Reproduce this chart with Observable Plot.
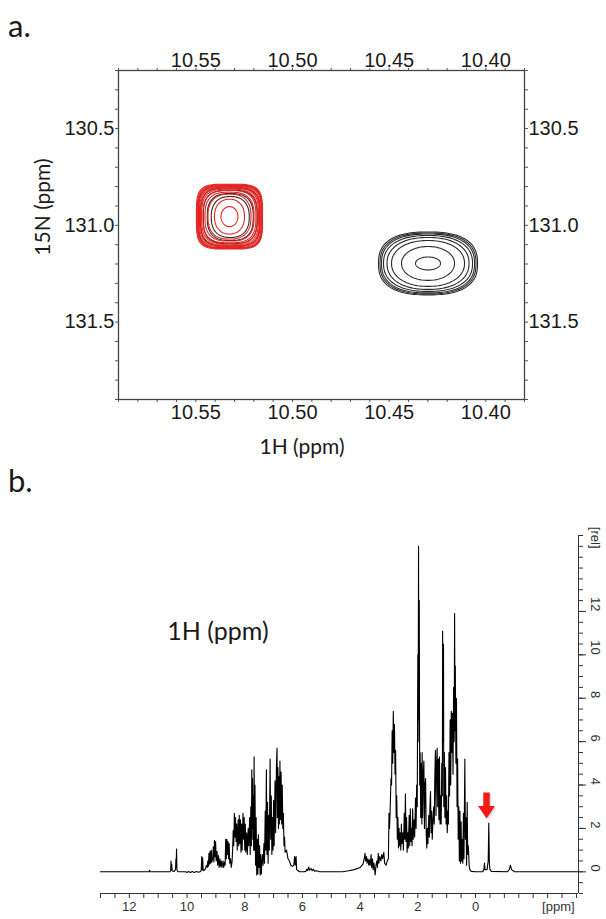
<!DOCTYPE html>
<html><head><meta charset="utf-8">
<script src="https://cdn.jsdelivr.net/npm/d3@7"></script>
<script src="https://cdn.jsdelivr.net/npm/@observablehq/plot@0.6"></script>
<style>
body{margin:0;background:#fff;}
#wrap{position:relative;width:606px;height:919px;overflow:hidden;background:#fff;}
#pa{position:absolute;left:0;top:0;}
#pb{position:absolute;left:0;top:460px;}
#ov{position:absolute;left:0;top:0;pointer-events:none;}
#ov text{font-family:Lato,"Open Sans",sans-serif;fill:#1a1a1a;}
</style></head>
<body><div id="wrap">
<div id="pa"></div><div id="pb"></div>
<svg id="ov" width="606" height="919">
  <text x="8" y="37" font-size="31">a.</text>
  <text x="8" y="492" font-size="31">b.</text>
  <text x="302" y="454" font-size="21" text-anchor="middle">1H (ppm)</text>
  <text transform="translate(50,207) rotate(-90)" font-size="21" text-anchor="middle">15N (ppm)</text>
  <text x="218" y="640" font-size="25" text-anchor="middle">1H (ppm)</text>
</svg>
</div>
<script>
// ---------- Panel a: 2D 1H-15N spectrum ----------
const hDomain = [10.59, 10.38];          // 1H ppm, left -> right
const nDomain = [130.2, 131.9];          // 15N ppm, top -> bottom
const hLabels = [10.55, 10.50, 10.45, 10.40];
const nLabels = [130.5, 131.0, 131.5];

// red peak contour rings (half-widths in ppm) and superellipse exponents
const redCenter = [10.5326, 130.955];
const redHalfH  = [0.01707, 0.01671, 0.01635, 0.01593, 0.01552, 0.01500, 0.01438, 0.01366, 0.01267, 0.01112, 0.00776, 0.00440];
const redHalfN  = [0.1675, 0.1639, 0.1598, 0.1557, 0.1515, 0.1469, 0.1418, 0.1351, 0.1263, 0.1160, 0.0902, 0.0515];
const redExp    = [4.2, 4.1, 4.0, 3.8, 3.6, 3.4, 3.2, 3.0, 2.8, 2.5, 2.2, 2.0];

// black contour rings under the red peak
const blackACenter = [10.5322, 130.957];
const blackAHalfH  = [0.01645, 0.01526, 0.01392, 0.01190, 0.00983];
const blackAHalfN  = [0.1613, 0.1495, 0.1381, 0.1211, 0.1057];
const blackAExp    = [4.0, 3.6, 3.1, 2.7, 2.4];

// black peak
const blackBCenter = [10.4299, 131.197];
const blackBHalfH  = [0.00647, 0.01371, 0.01888, 0.02121, 0.02302, 0.02406, 0.02483, 0.02561];
const blackBHalfN  = [0.0335, 0.0876, 0.1186, 0.1340, 0.1443, 0.1520, 0.1572, 0.1624];
const blackBExp    = [2.0, 2.05, 2.15, 2.25, 2.35, 2.45, 2.5, 2.55];

function rings(center, hs, ns, ps, tag) {
  const out = [];
  hs.forEach((a, i) => {
    const b = ns[i], p = ps[i];
    for (let k = 0; k <= 120; k++) {
      const t = k / 120 * 2 * Math.PI, c = Math.cos(t), s = Math.sin(t);
      out.push({ring: tag + i,
        x: center[0] + a * Math.sign(c) * Math.pow(Math.abs(c), 2 / p),
        y: center[1] + b * Math.sign(s) * Math.pow(Math.abs(s), 2 / p)});
    }
  });
  return out;
}
const redRings = rings(redCenter, redHalfH, redHalfN, redExp, "r");
const blackRings = rings(blackACenter, blackAHalfH, blackAHalfN, blackAExp, "a")
  .concat(rings(blackBCenter, blackBHalfH, blackBHalfN, blackBExp, "b"));

const hTicks = d3.range(1038, 1060).map(v => v / 100);
const nTicks = d3.range(1302, 1320).map(v => v / 10);
const near = (arr, d) => arr.some(v => Math.abs(v - d) < 1e-6);
const fmtH = d => near(hLabels, d) ? d.toFixed(2) : "";
const fmtN = d => near(nLabels, d) ? d.toFixed(1) : "";

const pa = Plot.plot({
  width: 606, height: 460,
  marginLeft: 118, marginRight: 82, marginTop: 70, marginBottom: 61,
  style: {fontFamily: "'Liberation Sans', Arial, sans-serif", fontSize: "20px", color: "#1a1a1a", background: "#fff"},
  x: {domain: hDomain},
  y: {domain: nDomain, reverse: true},
  marks: [
    Plot.axisX({anchor: "top", ticks: hTicks, tickSize: 3, tickPadding: 1, tickFormat: fmtH, stroke: "#555", label: null}),
    Plot.axisX({anchor: "bottom", ticks: hTicks, tickSize: 3, tickPadding: 2, tickFormat: fmtH, stroke: "#555", label: null}),
    Plot.axisY({anchor: "left", ticks: nTicks, tickSize: 3, tickPadding: 1, tickFormat: fmtN, stroke: "#555", label: null}),
    Plot.axisY({anchor: "right", ticks: nTicks, tickSize: 3, tickPadding: 1, tickFormat: fmtN, stroke: "#555", label: null}),
    Plot.line(blackRings, {x: "x", y: "y", z: "ring", stroke: "#2b2b2b", strokeWidth: 1.1}),
    Plot.line(redRings, {x: "x", y: "y", z: "ring", stroke: "#e8231f", strokeWidth: 1.1}),
    Plot.frame({stroke: "#444", strokeWidth: 1.3})
  ]
});
document.getElementById("pa").appendChild(pa);

// ---------- Panel b: 1D 1H spectrum ----------
const ppmDomain = [13.0, -3.57];
const relDomain = [-1, 15.5];
const ppmLabels = [12, 10, 8, 6, 4, 2, 0];
const relLabels = [0, 2, 4, 6, 8, 10, 12];
const spectrum = [
[13.0,0],[11.32,0],[11.30,0.07],[11.28,0],
[10.60,0],[10.57,0.05],[10.555,0.5],[10.545,0.08],[10.53,0.35],[10.515,0.04],[10.45,0.02],[10.40,0.1],[10.385,0.6],[10.375,0.2],[10.365,1.05],[10.35,0.08],[10.32,0],
[10.05,0],[10.0,-0.03],[9.95,0.01],[9.88,-0.03],[9.82,0.01],[9.75,-0.03],[9.68,0.01],[9.6,-0.02],[9.55,0],
[9.51,0.05],[9.49,0.7],[9.475,0.1],[9.46,0.65],[9.44,0.05],[9.40,0.08],
[9.36,0.15],[9.33,0.3],[9.30,0.2],[9.28,0.5],[9.26,0.25],[9.24,0.85],[9.22,0.35],[9.20,0.95],[9.18,0.4],[9.16,1.0],[9.14,0.45],[9.11,0.6],[9.09,1.15],[9.07,0.45],[9.05,1.45],[9.03,0.7],[9.01,1.4],[8.99,0.5],[8.96,0.95],[8.94,0.3],[8.91,0.75],[8.89,0.2],[8.86,0.6],[8.84,0.25],[8.81,0.5],[8.79,0.2],[8.75,0.5],[8.73,0.2],[8.70,0.45],[8.68,0.3],[8.66,1.5],[8.64,0.6],[8.62,1.5],[8.60,0.8],[8.58,1.4],[8.56,0.6],[8.54,1.3],[8.52,0.4],[8.49,0.6],[8.47,0.2],[8.44,0.45],[8.42,1.0],
[8.40,1.9],[8.38,1.2],[8.36,2.7],[8.34,1.6],[8.32,2.5],[8.30,1.4],[8.28,2.2],[8.26,1.0],[8.23,2.4],[8.21,1.2],[8.19,2.6],[8.17,1.3],[8.15,2.4],[8.13,0.9],[8.11,2.2],[8.09,1.0],[8.06,2.7],[8.04,1.5],[8.02,2.5],[8.00,1.0],[7.98,2.2],[7.96,0.9],[7.93,1.8],[7.91,0.8],[7.88,2.0],[7.86,1.2],[7.83,2.5],[7.81,0.8],[7.79,3.0],[7.77,1.2],[7.755,4.7],[7.745,2.0],[7.73,4.3],[7.72,1.5],[7.705,3.5],[7.69,1.0],[7.675,5.3],[7.66,1.0],[7.645,4.0],[7.625,0.3],[7.605,2.5],[7.585,-0.15],[7.565,1.5],[7.545,-0.1],[7.525,1.7],[7.505,0.2],[7.485,1.2],[7.465,-0.15],[7.445,0.8],[7.425,-0.1],[7.405,0.5],[7.385,0.8],[7.365,0.3],[7.335,1.3],[7.315,0.4],[7.29,2.8],[7.27,1.0],[7.25,4.7],[7.23,0.8],[7.21,3.2],[7.19,0.4],[7.17,2.6],[7.15,1.0],[7.12,5.2],[7.10,1.5],[7.08,3.5],[7.06,0.8],[7.04,2.5],[7.02,1.0],[7.00,3.3],[6.98,1.2],[6.95,4.2],[6.93,1.8],[6.90,5.0],[6.88,5.7],[6.87,2.5],[6.85,4.8],[6.83,2.0],[6.81,4.4],[6.80,2.2],[6.78,5.1],[6.76,2.4],[6.74,4.6],[6.72,2.2],[6.70,4.0],[6.68,2.0],[6.66,2.7],[6.64,1.2],[6.62,1.6],[6.60,0.9],[6.55,1.0],[6.50,0.6],[6.45,0.5],[6.40,0.3],[6.35,0.25],[6.30,0.3],[6.27,0.7],[6.25,0.3],[6.22,0.7],[6.20,0.1],[6.15,0.05],[6.10,0],[5.95,0],[5.88,0.02],[5.85,0.12],[5.82,0.05],[5.78,0.22],[5.75,0.08],[5.70,0.15],[5.66,0.05],[5.62,0.12],[5.58,0.03],[5.50,0.05],[5.40,0],
[4.6,0],[4.4,0.05],[4.2,0.1],[4.0,0.2],[3.9,0.35],[3.86,0.6],[3.83,0.85],[3.81,0.5],[3.78,0.7],[3.76,0.4],[3.73,0.6],[3.70,0.3],[3.68,0.55],[3.65,0.3],[3.62,0.8],[3.60,0.2],[3.57,0.6],[3.55,0.1],[3.52,0.4],[3.48,-0.15],[3.45,0.3],[3.42,0.5],[3.40,0.2],[3.37,0.85],[3.35,0.4],[3.32,0.7],[3.28,0.5],[3.25,0.8],[3.22,0.6],[3.18,0.9],[3.15,0.4],[3.10,0.3],[3.06,0.5],[3.02,0.6],
[3.00,2.7],[2.98,2.0],[2.96,2.8],[2.93,4.3],[2.91,4.0],[2.89,6.5],[2.87,5.0],[2.85,7.4],[2.83,5.5],[2.81,6.8],[2.79,4.5],[2.77,5.6],[2.75,2.5],[2.73,3.5],[2.71,1.5],[2.69,2.5],[2.67,1.1],[2.65,2.0],[2.63,1.2],[2.61,1.8],[2.59,1.0],[2.57,2.2],[2.55,1.3],[2.52,1.8],[2.50,1.0],[2.47,2.7],[2.45,1.5],[2.43,3.6],[2.41,1.4],[2.39,2.5],[2.37,0.9],[2.35,1.8],[2.33,1.1],[2.30,2.6],[2.28,1.2],[2.26,2.9],[2.24,1.4],[2.22,2.0],[2.20,1.2],[2.18,2.9],[2.16,1.5],[2.13,2.4],[2.11,1.6],[2.08,3.4],[2.06,2.0],[2.04,4.0],[2.02,3.0],[2.00,10.0],[1.99,6.0],[1.975,15.0],[1.965,7.0],[1.95,12.5],[1.935,4.0],[1.92,5.5],[1.90,2.5],[1.88,5.0],[1.86,2.2],[1.85,5.5],[1.83,2.5],[1.81,4.5],[1.79,5.1],[1.77,2.0],[1.75,4.0],[1.73,4.3],[1.71,1.8],[1.69,1.1],[1.67,2.0],[1.65,1.3],[1.62,2.6],[1.60,1.6],[1.58,3.0],[1.56,3.7],[1.54,1.8],[1.52,2.8],[1.50,1.5],[1.47,2.5],[1.45,3.0],[1.43,2.2],[1.41,4.5],[1.39,5.6],[1.37,2.6],[1.35,5.0],[1.33,5.7],[1.31,3.0],[1.29,5.2],[1.27,2.4],[1.25,5.3],[1.23,2.2],[1.21,3.5],[1.19,2.2],[1.17,5.0],[1.15,3.5],[1.14,11.1],[1.125,6.0],[1.11,10.5],[1.10,3.0],[1.08,5.5],[1.06,2.5],[1.04,4.8],[1.02,2.2],[1.00,3.5],[0.98,1.8],[0.96,2.8],[0.94,2.2],[0.92,5.5],[0.90,3.5],[0.88,7.0],[0.86,4.0],[0.84,7.4],[0.82,5.5],[0.80,7.3],[0.78,4.5],[0.76,8.5],[0.74,6.0],[0.725,11.9],[0.71,6.5],[0.70,9.5],[0.68,5.0],[0.66,8.0],[0.64,3.0],[0.62,5.2],[0.60,1.5],[0.58,3.0],[0.56,0.5],[0.54,2.8],[0.52,0.4],[0.50,2.3],[0.48,0.5],[0.46,1.5],[0.44,0.4],[0.42,2.7],[0.40,0.6],[0.37,5.2],[0.35,1.5],[0.33,2.5],[0.31,0.3],[0.29,3.2],[0.27,0.8],[0.25,1.2],[0.22,0.3],[0.20,0.1],[0.15,0.02],[0.0,0],
[-0.25,0],[-0.29,0.1],[-0.31,0.4],[-0.33,0.1],[-0.40,0.1],[-0.44,0.5],[-0.46,2.25],[-0.48,0.4],[-0.50,0.1],[-0.55,0.02],[-1.10,0],[-1.17,0.1],[-1.21,0.3],[-1.25,0.1],[-1.35,0],[-3.57,0]
];
const arrowMark = [{ppm: -0.38, top: 3.65}];
const unitLabel = [{ppm: -2.87, text: "[ppm]"}];
const relUnit = [{rel: 14.9, text: "[rel]"}];

const ppmTicks = d3.range(-7, 27).map(v => v / 2);
const relTicks = d3.range(-2, 32).map(v => v / 2);
const fmtPpm = d => near(ppmLabels, d) ? String(d) : "";

const blockArrow = {
  draw(ctx, l) {
    const hw = 3.2, hh = 8.5, head = 12.5;
    ctx.moveTo(-hw, 0);
    ctx.lineTo(-hw, -(l - head));
    ctx.lineTo(-hh, -(l - head));
    ctx.lineTo(0, -l);
    ctx.lineTo(hh, -(l - head));
    ctx.lineTo(hw, -(l - head));
    ctx.lineTo(hw, 0);
    ctx.closePath();
  }
};

const pb = Plot.plot({
  width: 606, height: 459,
  marginLeft: 100, marginRight: 28, marginTop: 75, marginBottom: 26,
  style: {fontFamily: "'Liberation Sans', Arial, sans-serif", fontSize: "13px", color: "#333", background: "transparent"},
  x: {domain: ppmDomain},
  y: {domain: relDomain},
  marks: [
    Plot.axisX({anchor: "bottom", ticks: ppmTicks, tickSize: 5, tickPadding: 3, tickFormat: fmtPpm, stroke: "#333", label: null}),
    Plot.axisY({anchor: "right", ticks: relTicks, tickSize: 4, tickFormat: () => "", stroke: "#333", label: null}),
    Plot.axisY({anchor: "right", ticks: relLabels, tickSize: 7, tickFormat: () => "", stroke: "#333", label: null}),
    Plot.ruleY([relDomain[0]], {stroke: "#333", strokeWidth: 1}),
    Plot.ruleX([ppmDomain[1]], {stroke: "#333", strokeWidth: 1}),
    Plot.text(relLabels, {y: d => d, frameAnchor: "right", dx: 17, rotate: 90, text: d => String(d)}),
    Plot.text(relUnit, {y: "rel", frameAnchor: "right", dx: 17, rotate: 90, text: "text"}),
    Plot.text(unitLabel, {x: "ppm", frameAnchor: "bottom", dy: 8, lineAnchor: "top", text: "text"}),
    Plot.line(spectrum, {x: d => d[0], y: d => d[1], stroke: "#000", strokeWidth: 1.1}),
    Plot.vector(arrowMark, {x: "ppm", y: "top", length: 26, rotate: 180, anchor: "start", shape: blockArrow, fill: "#999", fillOpacity: 0.35, stroke: "none", dx: 1.5, dy: 1.5}),
    Plot.vector(arrowMark, {x: "ppm", y: "top", length: 26, rotate: 180, anchor: "start", shape: blockArrow, fill: "#f41a14", stroke: "none"})
  ]
});
document.getElementById("pb").appendChild(pb);
</script>
</body></html>
